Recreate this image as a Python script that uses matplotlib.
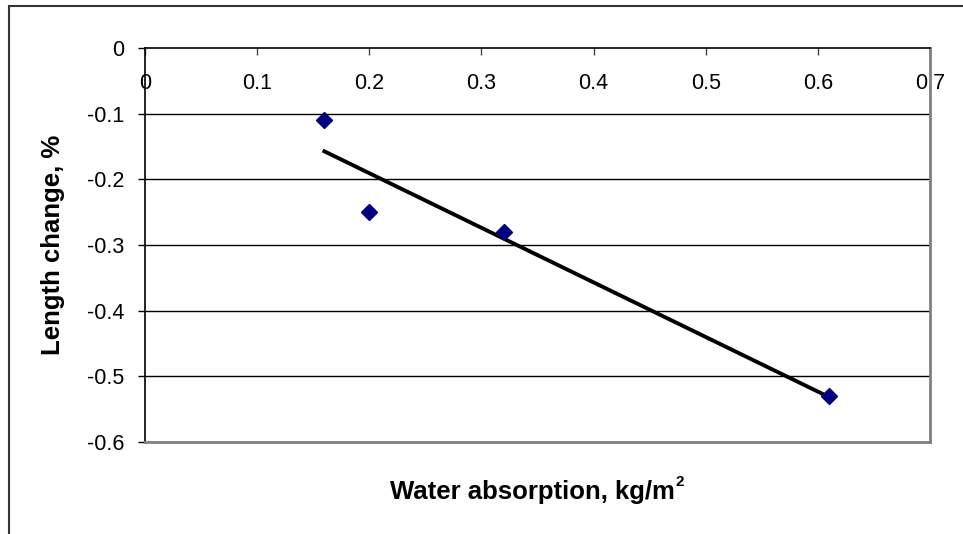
import numpy as np
import matplotlib
matplotlib.use('Agg')
import matplotlib.pyplot as plt
from matplotlib.patches import Rectangle

# water absorption (kg/m2) vs length change (%)
absorption = [0.16, 0.20, 0.32, 0.61]
length_change = [-0.11, -0.25, -0.28, -0.53]
xticks = [0, 0.1, 0.2, 0.3, 0.4, 0.5, 0.6, 0.7]
yticks = [0, -0.1, -0.2, -0.3, -0.4, -0.5, -0.6]

plt.rcParams['font.family'] = ['Liberation Sans', 'DejaVu Sans']

fig = plt.figure(figsize=(9.63, 5.34), dpi=100)
ax = fig.add_axes([145/963, 1-442/534, 785/963, 394/534])

# outer chart border (only left and top visible)
fig.patches.append(Rectangle((9/963, -0.2), 1.5, 1-6/534+0.2, transform=fig.transFigure,
                             fill=False, edgecolor='#333333', linewidth=1.5))

for y in yticks[1:-1]:
    ax.axhline(y, color='black', linewidth=1, zorder=1)

ax.plot(absorption, length_change, linestyle='none', marker='D', markersize=8,
        color='#000080', zorder=3)

# linear trendline
k, b = np.polyfit(absorption, length_change, 1)
xs = np.array([min(absorption), max(absorption)])
ax.plot(xs, k*xs + b, color='black', linewidth=2.8, zorder=2)

ax.set_xlim(0, 0.7)
ax.set_ylim(-0.6, 0)
ax.set_xticks(xticks)
ax.set_xticklabels([str(v) for v in xticks])
ax.set_yticks(yticks)
ax.set_yticklabels([str(v) for v in yticks])

ax.xaxis.set_ticks_position('top')
ax.tick_params(axis='x', direction='in', length=5, width=1, color='#444444',
               labelsize=15.5, pad=-33, labeltop=True, labelbottom=False)
ax.tick_params(axis='y', direction='out', length=5, width=1, color='black',
               labelsize=15.5, pad=10)

ax.spines['left'].set_color('black')
ax.spines['top'].set_color('black')
ax.spines['left'].set_linewidth(1.2)
ax.spines['top'].set_linewidth(1.2)
ax.spines['right'].set_color('#808080')
ax.spines['bottom'].set_color('#808080')
ax.spines['right'].set_linewidth(2)
ax.spines['bottom'].set_linewidth(2)

xl = fig.text(532/963, 1-492/534, 'Water absorption, kg/m', ha='center', va='center',
              fontsize=18.5, fontweight='bold')
ax.annotate('2', xy=(1, 1), xycoords=xl, xytext=(1, 3.5), textcoords='offset points',
            ha='left', va='top', fontsize=11, fontweight='bold')
fig.text(53/963, 1-245/534, 'Length change, %', ha='center', va='center', rotation=90,
         fontsize=18.5, fontweight='bold')

plt.savefig('out.png', dpi=100)
